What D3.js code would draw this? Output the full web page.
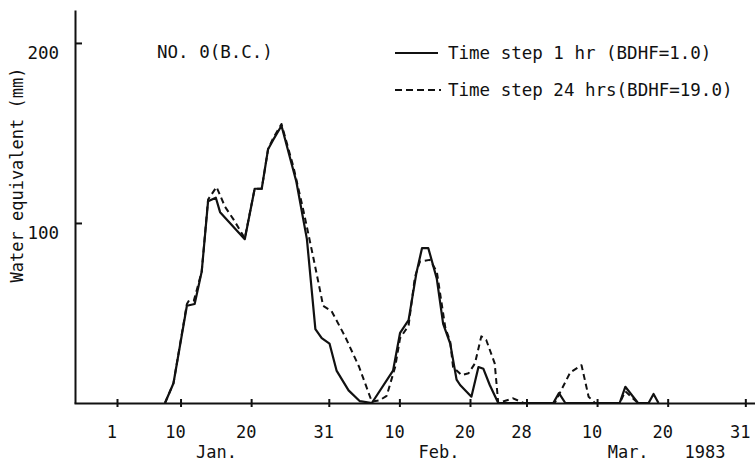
<!DOCTYPE html>
<html>
<head>
<meta charset="utf-8">
<script src="https://cdn.jsdelivr.net/npm/d3@7"></script>
<style>
  html, body { margin: 0; padding: 0; background: #fff; }
  svg { display: block; }
  text { font-family: "DejaVu Sans Mono", monospace; fill: #111; }
</style>
</head>
<body>
<svg id="chart" width="755" height="461"></svg>
<script>
// ---- data (day of year 1983; Jan 1 = 1) ----
const solidDays = [7.8, 9, 10.9, 12, 13, 13.9, 15, 15.6, 19.1, 20.5, 21.5, 22.4, 23.1, 24.3, 26.4, 27.9, 29.1, 30, 31.1, 32.1, 33.8, 35.4, 37.1, 40.1, 41.1, 42.3, 43.4, 44.2, 45.1, 46.3, 47.2, 48.2, 49.1, 49.6, 51.2, 52.2, 52.9, 53.8, 55, 62.8, 63.6, 64.5, 72.2, 73, 74.8, 76.3, 77, 77.7];
const solidVals = [0, 11, 54, 55, 73, 112, 114, 106, 91, 119, 119, 141, 146, 154, 123, 91, 41, 36, 33, 18, 7, 1, 0, 18, 39, 46, 72, 86, 86, 69, 44, 33, 13, 10, 3.5, 20, 19, 10, 0, 0, 5.5, 0, 0, 9, 0, 0, 5, 0];

const dashDays = [7.8, 9, 10.9, 11.2, 11.9, 13, 13.9, 15.1, 16.3, 17.5, 19.1, 20.5, 21.5, 22.4, 23.1, 24.3, 26.0, 27.4, 28.8, 30.2, 31.4, 33.3, 35.3, 37.1, 38.2, 39.2, 40.4, 41.1, 42.3, 43.2, 43.9, 45.3, 46.3, 47.5, 48.2, 48.6, 49.8, 50.8, 51.7, 52.6, 53.3, 54.5, 55.0, 57.1, 58.6, 63, 65.2, 66.8, 67.8, 68.7, 72.2, 73, 74.8];
const dashVals = [0, 11, 55, 57, 57, 73, 113, 120, 109, 102, 91.5, 119, 119, 141, 147, 155, 131, 107, 81, 54, 51, 37, 20, 0.7, 1.5, 4, 20, 36, 43, 70, 78.5, 79.5, 73, 42, 34, 20, 15.5, 16.5, 22, 37, 35, 22, 0, 2.6, 0, 0, 17, 21, 3.5, 0, 0, 6.5, 0];

const xTickDays = [1, 10, 20, 31, 41, 51, 59, 69, 79, 90];
const xTickLabels = ["1", "10", "20", "31", "10", "20", "28", "10", "20", "31"];
const monthLabels = ["Jan.", "Feb.", "Mar.", "1983"];
const monthDays = [15.1, 46.6, 73.4, 84.3];
const yTicks = [100, 200];

const seriesNames = ["Time step 1 hr (BDHF=1.0)", "Time step 24 hrs(BDHF=19.0)"];
const titleText = "NO. 0(B.C.)";
const yTitle = "Water equivalent (mm)";

// ---- layout ----
const svg = d3.select("#chart");
const x = d3.scaleLinear().domain([-5.09, 91.37]).range([74, 755]);
const y = d3.scaleLinear().domain([0, 218.3]).range([403, 10]);

// x axis
const xAxis = d3.axisBottom(x).tickValues(xTickDays).tickFormat((d, i) => xTickLabels[i]).tickSize(0).tickSizeOuter(0);
const gx = svg.append("g").attr("transform", "translate(0,403)").call(xAxis);
gx.select(".domain").attr("stroke", "#111").attr("stroke-width", 2);
gx.selectAll(".tick text").remove();
gx.selectAll(".tick").append("line").attr("y1", -4).attr("y2", 4).attr("stroke", "#111").attr("stroke-width", 2);

svg.append("g").selectAll("text").data(xTickDays).join("text")
  .attr("x", d => x(d) - 5).attr("y", 438)
  .attr("text-anchor", "middle").attr("font-size", 17)
  .text((d, i) => xTickLabels[i]);

svg.append("g").selectAll("text").data(monthDays).join("text")
  .attr("x", d => x(d)).attr("y", 458)
  .attr("text-anchor", "middle").attr("font-size", 17)
  .text((d, i) => monthLabels[i]);

// y axis
const yAxis = d3.axisRight(y).tickValues(yTicks).tickSize(7).tickSizeOuter(0).tickFormat("");
const gy = svg.append("g").attr("transform", "translate(75,0)").call(yAxis);
gy.select(".domain").attr("stroke", "#111").attr("stroke-width", 2);
gy.selectAll(".tick line").attr("stroke", "#111").attr("stroke-width", 2);

svg.append("g").selectAll("text").data(yTicks).join("text")
  .attr("x", 59).attr("y", d => y(d) + 16)
  .attr("text-anchor", "end").attr("font-size", 17.5)
  .text(d => d);

svg.append("text")
  .attr("transform", "translate(23,175) rotate(-90)")
  .attr("text-anchor", "middle").attr("font-size", 17)
  .text(yTitle);

// title
svg.append("text").attr("x", 157).attr("y", 58).attr("font-size", 17.5).text(titleText);

// lines
const line = d3.line().x(d => x(d[0])).y(d => y(d[1]));
const solidData = solidDays.map((d, i) => [d, solidVals[i]]);
const dashData = dashDays.map((d, i) => [d, dashVals[i]]);

svg.append("path").datum(dashData).attr("d", line)
  .attr("fill", "none").attr("stroke", "#111").attr("stroke-width", 2)
  .attr("stroke-dasharray", "6,4").attr("stroke-linejoin", "round");
svg.append("path").datum(solidData).attr("d", line)
  .attr("fill", "none").attr("stroke", "#111").attr("stroke-width", 2.2)
  .attr("stroke-linejoin", "round");

// legend
const lg = svg.append("g");
lg.append("line").attr("x1", 395).attr("x2", 438).attr("y1", 53).attr("y2", 53)
  .attr("stroke", "#111").attr("stroke-width", 2.2);
lg.append("line").attr("x1", 395).attr("x2", 441).attr("y1", 90).attr("y2", 90)
  .attr("stroke", "#111").attr("stroke-width", 2)
  .attr("stroke-dasharray", "7,4,7,4,7,4,7,4,2,10");
lg.append("text").attr("x", 448).attr("y", 59).attr("font-size", 17.5).text(seriesNames[0]);
lg.append("text").attr("x", 448).attr("y", 96).attr("font-size", 17.5).text(seriesNames[1]);
</script>
</body>
</html>
